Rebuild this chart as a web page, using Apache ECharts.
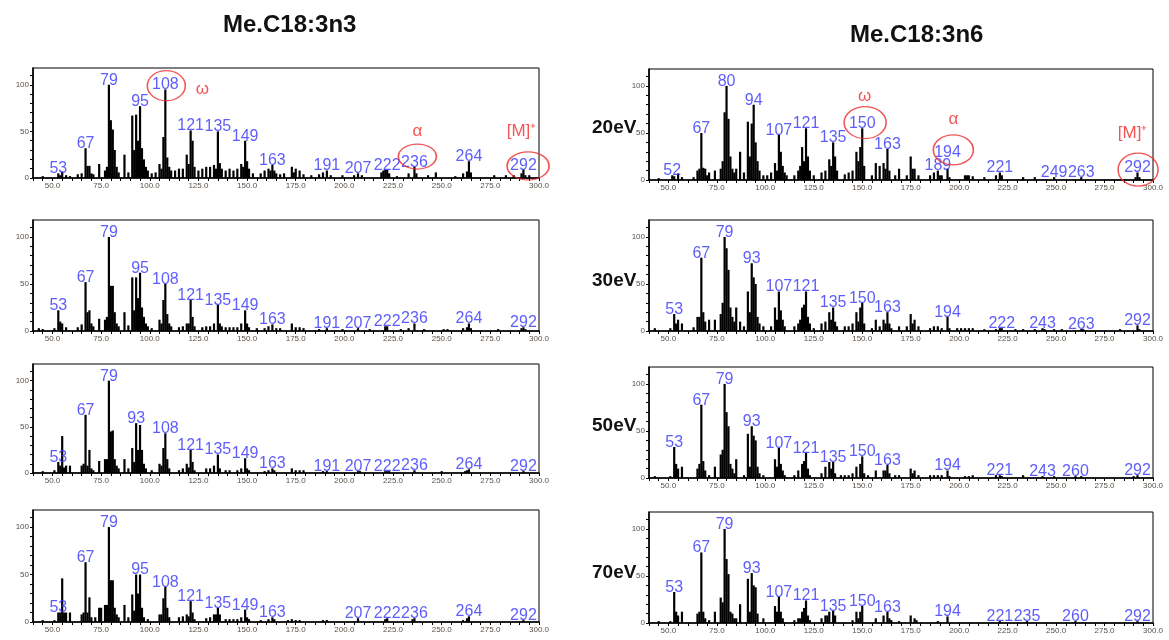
<!DOCTYPE html>
<html>
<head>
<meta charset="utf-8">
<title>Me.C18:3 spectra</title>
<script src="https://cdn.jsdelivr.net/npm/echarts@6/dist/echarts.min.js"></script>
<style>
    html, body {margin: 0; padding: 0; background: #fff;}
    #chart {width: 1169px; height: 640px;}
</style>
</head>
<body>
<div id="chart"></div>
<script>
"use strict";
// spectra: [m/z, relative intensity]
var n3_20 = [[45,2],[53,5],[54,3],[55,7],[57,3],[59,2],[63,4],[65,5],[67,32],[68,13],[69,13],[70,5],[71,4],[74,15],[77,8],[78,12],[79,100],[80,62],[81,52],[82,30],[83,12],[84,6],[87,25],[89,6],[91,67],[92,30],[93,68],[94,40],[95,77],[96,32],[97,20],[98,12],[99,8],[101,5],[103,6],[105,15],[106,10],[107,44],[108,95],[109,22],[110,12],[111,8],[113,8],[115,10],[117,10],[119,25],[120,15],[121,51],[122,40],[123,12],[125,8],[127,10],[129,12],[131,12],[133,14],[134,10],[135,50],[136,16],[137,10],[139,8],[141,10],[143,8],[145,10],[147,15],[148,12],[149,40],[150,18],[151,10],[153,5],[157,5],[159,8],[161,10],[162,8],[163,14],[164,8],[165,5],[167,4],[169,5],[173,12],[174,6],[175,10],[177,8],[179,4],[183,3],[187,4],[189,6],[191,8],[193,3],[199,3],[205,3],[207,5],[209,3],[219,6],[220,8],[221,9],[222,9],[223,5],[227,2],[233,5],[236,12],[237,5],[243,3],[247,6],[257,2],[261,5],[263,7],[264,18],[265,6],[277,3],[283,3],[287,3],[291,5],[292,9],[293,3],[295,3]];
var n3_30 = [[43,3],[45,2],[51,3],[53,22],[54,10],[55,8],[57,4],[63,4],[65,7],[67,52],[68,20],[69,22],[70,8],[71,5],[74,13],[77,12],[78,15],[79,100],[80,48],[81,48],[82,20],[83,8],[84,5],[87,20],[89,6],[91,57],[92,22],[93,57],[94,35],[95,62],[96,25],[97,15],[98,8],[99,5],[101,3],[105,12],[106,8],[107,33],[108,50],[109,18],[110,8],[111,5],[115,4],[117,5],[119,8],[120,8],[121,33],[122,15],[123,5],[127,4],[129,5],[131,5],[133,8],[135,28],[136,8],[137,5],[139,4],[141,4],[143,4],[145,4],[147,8],[149,22],[150,8],[151,4],[155,3],[159,3],[161,5],[163,7],[165,3],[167,3],[173,8],[175,4],[177,4],[179,3],[187,2],[191,3],[199,2],[207,3],[213,2],[221,5],[222,5],[229,2],[233,3],[236,8],[241,2],[251,2],[253,2],[261,3],[263,4],[264,8],[265,3],[279,2],[291,3],[292,4],[293,2]];
var n3_50 = [[45,2],[51,3],[53,12],[54,8],[55,40],[56,6],[57,8],[59,8],[65,8],[66,10],[67,63],[68,8],[69,25],[70,5],[71,3],[74,13],[77,15],[78,15],[79,100],[80,45],[81,46],[82,15],[83,8],[84,5],[87,15],[89,5],[91,27],[92,12],[93,54],[94,25],[95,52],[96,25],[97,10],[98,5],[101,3],[105,10],[106,8],[107,27],[108,43],[109,15],[110,5],[115,3],[117,5],[119,10],[120,6],[121,25],[122,12],[123,3],[129,5],[131,5],[133,8],[135,20],[136,5],[139,3],[141,3],[145,3],[147,5],[149,16],[150,5],[151,3],[159,2],[161,3],[163,5],[164,3],[173,5],[175,3],[177,3],[179,3],[189,2],[191,2],[207,2],[208,2],[221,2],[222,2],[223,2],[236,3],[250,2],[262,2],[263,3],[264,4],[292,2]];
var n3_70 = [[45,2],[51,2],[53,10],[54,10],[55,46],[56,10],[57,10],[59,10],[65,8],[66,10],[67,63],[68,10],[69,26],[70,5],[72,5],[74,15],[75,15],[77,18],[78,18],[79,100],[80,44],[81,44],[82,15],[83,8],[84,5],[87,18],[89,5],[91,29],[92,12],[93,50],[94,30],[95,50],[96,15],[97,5],[99,3],[105,8],[106,8],[107,25],[108,37],[109,15],[110,5],[115,5],[117,6],[119,8],[120,6],[121,22],[122,10],[123,3],[129,4],[131,5],[133,8],[134,8],[135,15],[136,8],[139,3],[141,3],[143,3],[145,3],[147,5],[149,13],[150,5],[151,3],[157,2],[161,3],[163,5],[164,3],[171,2],[173,3],[175,2],[177,2],[189,2],[191,2],[207,4],[221,3],[222,4],[235,3],[236,4],[261,2],[263,4],[264,6],[292,2]];
var n6_20 = [[45,2],[52,5],[53,4],[55,7],[57,3],[63,3],[65,10],[66,12],[67,50],[68,13],[69,12],[70,5],[71,8],[74,10],[77,12],[78,20],[79,72],[80,100],[81,65],[82,25],[83,12],[84,8],[85,12],[87,30],[89,8],[91,62],[92,25],[93,60],[94,80],[95,40],[96,20],[97,10],[99,5],[101,5],[103,8],[105,18],[106,10],[107,48],[108,30],[109,15],[110,8],[111,5],[115,5],[117,10],[118,15],[119,35],[120,20],[121,55],[122,25],[123,10],[125,5],[129,8],[131,10],[133,22],[134,15],[135,40],[136,25],[137,10],[141,6],[143,8],[145,10],[147,30],[148,20],[149,35],[150,55],[151,15],[155,5],[157,18],[159,15],[161,18],[162,12],[163,33],[164,10],[167,5],[169,12],[173,5],[175,25],[176,12],[177,12],[179,5],[185,5],[187,8],[189,10],[190,5],[191,5],[194,12],[195,3],[203,5],[204,5],[205,5],[207,4],[213,3],[219,5],[221,8],[222,5],[233,3],[239,3],[249,3],[263,3],[291,3],[292,8],[293,3]];
var n6_30 = [[43,3],[51,3],[53,18],[54,8],[55,12],[57,8],[63,4],[65,15],[66,15],[67,78],[68,20],[69,10],[71,12],[74,12],[77,18],[78,30],[79,100],[80,88],[81,65],[82,25],[83,15],[84,10],[85,25],[87,10],[89,5],[91,42],[92,20],[93,72],[94,57],[95,50],[96,15],[97,8],[99,5],[103,5],[105,25],[106,12],[107,42],[108,22],[109,12],[110,5],[115,5],[117,8],[118,12],[119,25],[120,28],[121,42],[122,15],[123,8],[125,3],[129,8],[131,10],[133,20],[134,12],[135,25],[136,10],[137,5],[141,5],[143,5],[145,8],[147,20],[148,10],[149,25],[150,30],[151,8],[155,3],[157,12],[159,5],[161,12],[162,8],[163,20],[164,8],[165,3],[169,5],[173,5],[175,18],[176,8],[177,12],[179,5],[185,3],[187,5],[189,5],[191,3],[194,15],[195,3],[199,3],[201,3],[203,3],[205,3],[207,3],[213,2],[219,2],[221,3],[222,3],[229,2],[233,2],[239,2],[243,3],[244,2],[249,2],[253,2],[263,2],[264,2],[283,2],[292,6],[293,2]];
var n6_50 = [[43,2],[51,2],[53,33],[54,15],[55,10],[57,12],[65,10],[66,15],[67,78],[68,18],[69,8],[71,3],[74,12],[77,25],[78,30],[79,100],[80,70],[81,55],[82,15],[83,10],[84,5],[85,20],[89,3],[91,47],[92,12],[93,55],[94,45],[95,40],[96,12],[97,5],[99,3],[105,20],[106,12],[107,32],[108,15],[109,8],[110,3],[115,3],[117,8],[119,15],[120,18],[121,27],[122,10],[123,3],[129,5],[131,12],[133,17],[134,10],[135,17],[136,5],[139,3],[141,3],[143,3],[145,5],[147,12],[149,15],[150,23],[151,5],[153,3],[157,8],[161,8],[162,8],[163,14],[164,5],[167,3],[169,3],[175,10],[176,5],[177,8],[179,3],[185,3],[187,3],[189,3],[191,3],[194,8],[195,2],[203,2],[205,2],[207,3],[219,3],[221,3],[222,2],[233,3],[243,2],[249,2],[260,2],[263,2],[290,2],[292,3]];
var n6_70 = [[45,2],[51,2],[53,33],[54,12],[55,8],[57,12],[65,10],[66,12],[67,75],[68,12],[69,5],[71,3],[74,12],[77,27],[78,22],[79,100],[80,68],[81,52],[82,12],[83,10],[84,5],[85,5],[87,20],[91,47],[92,12],[93,53],[94,40],[95,38],[96,10],[99,5],[105,18],[106,12],[107,28],[108,12],[109,5],[115,3],[117,5],[118,5],[119,12],[120,16],[121,24],[122,8],[123,3],[129,5],[131,8],[132,8],[133,12],[135,13],[136,8],[145,3],[147,12],[148,5],[149,12],[150,18],[157,5],[161,8],[163,12],[164,5],[165,3],[169,2],[175,8],[177,5],[178,3],[189,2],[194,7],[221,2],[235,2],[260,2],[292,2]];

// labelled peaks
var n3_20_lab = [53, 67, 79, 95, 108, 121, 135, 149, 163, 191, 207, 222, 236, 264, 292];
var n3_30_lab = [53, 67, 79, 95, 108, 121, 135, 149, 163, 191, 207, 222, 236, 264, 292];
var n3_50_lab = [53, 67, 79, 93, 108, 121, 135, 149, 163, 191, 207, 222, 236, 264, 292];
var n3_70_lab = [53, 67, 79, 95, 108, 121, 135, 149, 163, 207, 222, 236, 264, 292];
var n6_20_lab = [52, 67, 80, 94, 107, 121, 135, 150, 163, 189, 194, 221, 249, 263, 292];
var n6_30_lab = [53, 67, 79, 93, 107, 121, 135, 150, 163, 194, 222, 243, 263, 292];
var n6_50_lab = [53, 67, 79, 93, 107, 121, 135, 150, 163, 194, 221, 243, 260, 292];
var n6_70_lab = [53, 67, 79, 93, 107, 121, 135, 150, 163, 194, 221, 235, 260, 292];

// red marks on the 20eV spectra: ring centres [m/z, y] and notes [text, m/z, y]
var n3_rings = [[108.5, 99], [237.5, 23], [294.4, 13]];
var n6_rings = [[151.5, 61], [197, 32], [292.3, 11]];
var n3_notes = [['ω', 127, 95], ['α', 237.5, 50], ['[M]⁺', 291, 50]];
var n6_notes = [['ω', 151.3, 89], ['α', 197, 64], ['[M]⁺', 289.5, 50]];

var titles = ['Me.C18:3n3', 'Me.C18:3n6'];
var energies = ['20eV', '30eV', '50eV', '70eV'];
var xTickLabels = [50, 75, 100, 125, 150, 175, 200, 225, 250, 275, 300];
var yTickLabels = [0, 50, 100];

var FONT = "'Liberation Sans', Arial, sans-serif";
var BLUE = '#3434fa', RED = '#ee2b2b';
var CLEAR = 'rgba(0,0,0,0)';

var chart = echarts.init(document.getElementById('chart'), null, {renderer: 'canvas'});

var panels = [
    {data: n3_20, lab: n3_20_lab, left: 33, width: 506, top: 68, height: 110, rings: n3_rings, ringSize: [[38, 30], [38, 25], [42, 28]], notes: n3_notes},
    {data: n3_30, lab: n3_30_lab, left: 33, width: 506, top: 220, height: 111},
    {data: n3_50, lab: n3_50_lab, left: 33, width: 506, top: 364, height: 109},
    {data: n3_70, lab: n3_70_lab, left: 33, width: 506, top: 510, height: 112},
    {data: n6_20, lab: n6_20_lab, left: 649, width: 504, top: 69, height: 111, rings: n6_rings, ringSize: [[42, 32], [40, 30], [40, 33]], notes: n6_notes,
        labelAt: {194: 24}},
    {data: n6_30, lab: n6_30_lab, left: 649, width: 504, top: 220, height: 111},
    {data: n6_50, lab: n6_50_lab, left: 649, width: 504, top: 367, height: 111},
    {data: n6_70, lab: n6_70_lab, left: 649, width: 504, top: 512, height: 111}
];

function peakY(data, mz) {
    for (var i = 0; i < data.length; i++) {
        if (data[i][0] === mz) return data[i][1];
    }
    return 0;
}

var xTicks = [], yTicks = [];
for (var v = 40; v <= 300; v += 5) xTicks.push(v);
for (var w = 0; w <= 110; w += 10) yTicks.push(w);

var grids = [], xAxes = [], yAxes = [], series = [];

panels.forEach(function (p, i) {
    grids.push({
        left: p.left, top: p.top, width: p.width, height: p.height,
        show: true, borderColor: '#000', borderWidth: 1, backgroundColor: '#fff'
    });
    xAxes.push({
        type: 'value', gridIndex: i, min: 40, max: 300,
        axisLine: {lineStyle: {color: '#000', width: 1.6}},
        axisTick: {customValues: xTicks, length: 3, lineStyle: {color: '#000', width: 1}},
        axisLabel: {
            customValues: xTickLabels, fontSize: 8, color: '#5a5048', margin: 4, fontFamily: FONT,
            formatter: function (val) { return val.toFixed(1); }
        },
        splitLine: {show: false}
    });
    yAxes.push({
        type: 'value', gridIndex: i, min: 0, max: 118,
        axisLine: {show: true, lineStyle: {color: '#000', width: 1.6}},
        axisTick: {show: true, customValues: yTicks, length: 3, lineStyle: {color: '#000'}},
        axisLabel: {customValues: yTickLabels, fontSize: 8, color: '#5a5048', margin: 4, fontFamily: FONT},
        splitLine: {show: false}
    });
    // stick spectrum
    series.push({
        type: 'bar', xAxisIndex: i, yAxisIndex: i, data: p.data,
        barWidth: 2.2, itemStyle: {color: '#000'}, silent: true, animation: false
    });
    // peak labels (a few sit higher than their peak)
    var at = p.labelAt || {};
    series.push({
        type: 'scatter', xAxisIndex: i, yAxisIndex: i, z: 5, silent: true, animation: false,
        symbolSize: 1, itemStyle: {color: CLEAR},
        data: p.lab.map(function (m) { return [m, at[m] !== undefined ? at[m] : peakY(p.data, m)]; }),
        label: {
            show: true, position: 'top', distance: -4,
            formatter: function (d) { return d.value[0]; },
            color: BLUE, fontSize: 16, fontFamily: FONT
        }
    });
    if (p.rings) {
        series.push({
            type: 'scatter', xAxisIndex: i, yAxisIndex: i, z: 6, silent: true, animation: false, clip: false,
            symbol: 'circle',
            data: p.rings.map(function (r, k) {
                return {value: r, symbolSize: p.ringSize[k]};
            }),
            itemStyle: {color: CLEAR, borderColor: RED, borderWidth: 1.4}
        });
        series.push({
            type: 'scatter', xAxisIndex: i, yAxisIndex: i, z: 6, silent: true, animation: false, clip: false,
            symbolSize: 1, itemStyle: {color: CLEAR},
            data: p.notes.map(function (n) { return {value: [n[1], n[2]], name: n[0]}; }),
            label: {
                show: true, position: 'inside',
                formatter: function (d) { return d.name; },
                color: RED, fontSize: 17, fontFamily: FONT
            }
        });
    }
});

var graphics = [
    {type: 'text', left: 223, top: 13, style: {text: titles[0], font: 'bold 24px ' + FONT, fill: '#111'}},
    {type: 'text', left: 850, top: 23, style: {text: titles[1], font: 'bold 24px ' + FONT, fill: '#111'}}
];
var evY = [118, 271, 416, 563];
energies.forEach(function (e, k) {
    graphics.push({type: 'text', left: 592, top: evY[k], style: {text: e, font: 'bold 19px ' + FONT, fill: '#111'}});
});

chart.setOption({
    animation: false,
    backgroundColor: '#fff',
    grid: grids,
    xAxis: xAxes,
    yAxis: yAxes,
    series: series,
    graphic: graphics
});
</script>
</body>
</html>
